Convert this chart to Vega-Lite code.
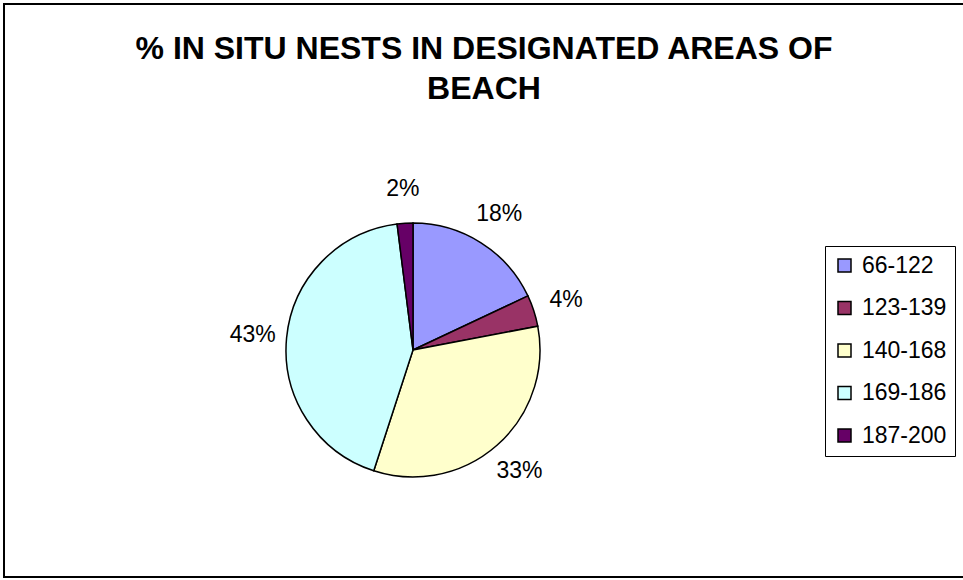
{
  "$schema": "https://vega.github.io/schema/vega-lite/v6.json",
  "autosize": "none",
  "width": 980,
  "height": 573,
  "padding": {"left": 4, "top": 4, "right": 0, "bottom": 3},
  "background": "white",
  "view": {"stroke": "black", "strokeWidth": 2, "fill": "white"},
  "config": {
    "view": {"stroke": "black", "strokeWidth": 2},
    "font": "Liberation Sans, Arial, sans-serif"
  },
  "title": {
    "text": ["% IN SITU NESTS IN DESIGNATED AREAS OF", "BEACH"],
    "anchor": "middle",
    "orient": "top",
    "offset": -102,
    "dx": -10,
    "fontSize": 32,
    "fontWeight": "bold",
    "lineHeight": 40,
    "color": "black",
    "font": "Liberation Sans, Arial, sans-serif"
  },
  "data": {
    "values": [
      {"idx": 1, "range": "66-122", "pct": 18},
      {"idx": 2, "range": "123-139", "pct": 4},
      {"idx": 3, "range": "140-168", "pct": 33},
      {"idx": 4, "range": "169-186", "pct": 43},
      {"idx": 5, "range": "187-200", "pct": 2}
    ]
  },
  "encoding": {
    "theta": {"field": "pct", "type": "quantitative", "stack": true},
    "order": {"field": "idx", "type": "quantitative"}
  },
  "layer": [
    {
      "mark": {"type": "arc", "x": 409, "y": 346, "outerRadius": 127, "stroke": "black", "strokeWidth": 1.5},
      "encoding": {
        "color": {
          "field": "range",
          "type": "nominal",
          "scale": {
            "domain": ["66-122", "123-139", "140-168", "169-186", "187-200"],
            "range": ["#9999FF", "#993366", "#FFFFCC", "#CCFFFF", "#660066"]
          },
          "legend": {
            "title": null,
            "orient": "none",
            "legendX": 821,
            "legendY": 242,
            "strokeColor": "black",
            "fillColor": "white",
            "padding": 8,
            "symbolType": "square",
            "symbolSize": 169,
            "symbolStrokeColor": "black",
            "symbolStrokeWidth": 1.5,
            "symbolOpacity": 1,
            "labelFontSize": 23,
            "labelColor": "black",
            "labelFont": "Liberation Sans, Arial, sans-serif",
            "labelOffset": 6,
            "rowPadding": 18.5,
            "labelLimit": 200
          }
        }
      }
    },
    {
      "mark": {
        "type": "text",
        "x": 409,
        "y": 346,
        "radius": 161,
        "fontSize": 23,
        "color": "black",
        "align": "center",
        "baseline": "middle",
        "text": {"expr": "datum.pct + '%'"}
      },
      "encoding": {
        "detail": {"field": "range", "type": "nominal"}
      }
    }
  ]
}
